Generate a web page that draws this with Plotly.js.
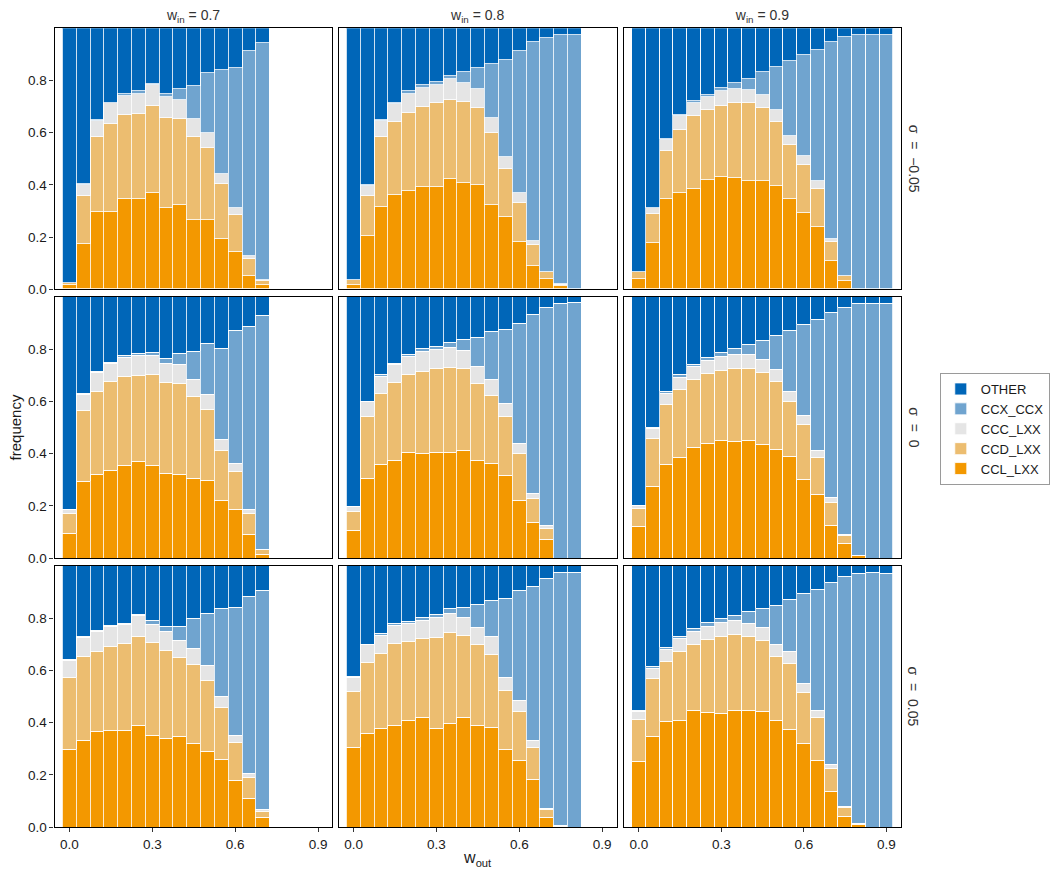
<!DOCTYPE html>
<html>
<head>
<meta charset="utf-8">
<script src="https://cdn.plot.ly/plotly-3.0.1.min.js"></script>
<style>html,body{margin:0;padding:0;background:#fff;}#chart{width:1050px;height:871px;}</style>
</head>
<body>
<div id="chart"></div>
<script>
// ---- categories & tick labels ----
const categories = ['CCL_LXX', 'CCD_LXX', 'CCC_LXX', 'CCX_CCX', 'OTHER'];
const catColors = ['#F39800', '#ECBD70', '#E5E5E5', '#70A4CF', '#0066B8'];
const wInLabels = ['0.7', '0.8', '0.9'];
const sigmaLabels = ['\u03C3\u00A0 =\u00A0 \u22120.05', '\u03C3\u00A0 =\u00A0 0', '\u03C3\u00A0 =\u00A0 0.05'];
const xTickVals = [0, 0.3, 0.6, 0.9];
const xTickText = ['0.0', '0.3', '0.6', '0.9'];
const yTickVals = [0, 0.2, 0.4, 0.6, 0.8];
const yTickText = ['0.0', '0.2', '0.4', '0.6', '0.8'];

// ---- w_out values (x) ----
const wOut_07 = [0, 0.05, 0.1, 0.15, 0.2, 0.25, 0.3, 0.35, 0.4, 0.45, 0.5, 0.55, 0.6, 0.65, 0.7];
const wOut_08 = [0, 0.05, 0.1, 0.15, 0.2, 0.25, 0.3, 0.35, 0.4, 0.45, 0.5, 0.55, 0.6, 0.65, 0.7, 0.75, 0.8];
const wOut_09 = [0, 0.05, 0.1, 0.15, 0.2, 0.25, 0.3, 0.35, 0.4, 0.45, 0.5, 0.55, 0.6, 0.65, 0.7, 0.75, 0.8, 0.85, 0.9];

// ---- sigma = -0.05, w_in = 0.7 ----
const ccl_sn_07 = [0.014,0.174,0.294,0.294,0.343,0.343,0.366,0.312,0.320,0.266,0.266,0.193,0.143,0.051,0.017];
const ccd_sn_07 = [0.010,0.184,0.288,0.340,0.325,0.329,0.337,0.345,0.333,0.318,0.276,0.211,0.142,0.065,0.015];
const ccc_sn_07 = [0.000,0.039,0.063,0.077,0.073,0.077,0.077,0.077,0.073,0.069,0.054,0.038,0.027,0.012,0.004];
const ccx_sn_07 = [0.000,0.004,0.001,0.003,0.008,0.008,0.007,0.015,0.042,0.123,0.230,0.399,0.533,0.782,0.905];
const oth_sn_07 = [0.976,0.599,0.354,0.286,0.251,0.243,0.213,0.251,0.232,0.224,0.174,0.159,0.155,0.090,0.059];
// ---- sigma = -0.05, w_in = 0.8 ----
const ccl_sn_08 = [0.017,0.204,0.316,0.362,0.377,0.392,0.389,0.423,0.408,0.400,0.323,0.274,0.181,0.089,0.040,0.013,0];
const ccd_sn_08 = [0.019,0.154,0.268,0.276,0.299,0.307,0.325,0.303,0.310,0.295,0.273,0.187,0.150,0.081,0.026,0.004,0];
const ccc_sn_08 = [0,0.038,0.061,0.069,0.073,0.073,0.069,0.077,0.073,0.073,0.061,0.046,0.035,0.015,0,0.003,0];
const ccx_sn_08 = [0,0.004,0.004,0.004,0.008,0.008,0.012,0.015,0.042,0.077,0.207,0.372,0.544,0.760,0.894,0.955,0.975];
const oth_sn_08 = [0.964,0.600,0.351,0.289,0.243,0.220,0.205,0.182,0.167,0.155,0.136,0.121,0.090,0.055,0.040,0.025,0.025];
// ---- sigma = -0.05, w_in = 0.9 ----
const ccl_sn_09 = [0.040,0.178,0.343,0.366,0.385,0.419,0.431,0.427,0.415,0.412,0.396,0.346,0.293,0.239,0.109,0.032,0,0,0];
const ccd_sn_09 = [0.024,0.111,0.187,0.245,0.276,0.265,0.272,0.287,0.299,0.283,0.242,0.204,0.184,0.146,0.072,0.019,0,0,0];
const ccc_sn_09 = [0,0.023,0.039,0.050,0.053,0.050,0.054,0.054,0.050,0.050,0.046,0.038,0.034,0.027,0.012,0,0,0,0];
const ccx_sn_09 = [0,0,0.007,0.004,0.008,0.011,0.015,0.023,0.042,0.088,0.165,0.284,0.384,0.502,0.752,0.913,0.975,0.975,0.975];
const oth_sn_09 = [0.936,0.688,0.424,0.335,0.278,0.255,0.228,0.209,0.194,0.167,0.151,0.128,0.105,0.086,0.055,0.036,0.025,0.025,0.025];

// ---- sigma = 0, w_in = 0.7 ----
const ccl_s0_07 = [0.093,0.292,0.319,0.334,0.353,0.369,0.353,0.323,0.319,0.304,0.296,0.219,0.185,0.089,0.013];
const ccd_s0_07 = [0.077,0.272,0.318,0.341,0.341,0.329,0.349,0.348,0.348,0.314,0.272,0.192,0.145,0.081,0.019];
const ccc_s0_07 = [0.015,0.061,0.072,0.069,0.073,0.076,0.072,0.073,0.073,0.065,0.057,0.042,0.031,0.015,0];
const ccx_s0_07 = [0,0.004,0.004,0.004,0.007,0.008,0.012,0.019,0.042,0.107,0.195,0.348,0.509,0.700,0.896];
const oth_s0_07 = [0.815,0.371,0.287,0.252,0.226,0.218,0.214,0.237,0.218,0.210,0.180,0.199,0.130,0.115,0.072];
// ---- sigma = 0, w_in = 0.8 ----
const ccl_s0_08 = [0.105,0.304,0.357,0.373,0.403,0.399,0.403,0.403,0.411,0.373,0.361,0.315,0.219,0.135,0.070,0,0];
const ccd_s0_08 = [0.072,0.237,0.272,0.298,0.299,0.314,0.322,0.326,0.314,0.294,0.260,0.226,0.180,0.092,0.042,0,0];
const ccc_s0_08 = [0.019,0.057,0.065,0.069,0.069,0.077,0.072,0.076,0.069,0.065,0.062,0.050,0.039,0.019,0.012,0,0];
const ccx_s0_08 = [0,0,0.008,0.004,0.007,0.011,0.012,0.019,0.042,0.111,0.183,0.283,0.459,0.685,0.834,0.974,0.977];
const oth_s0_08 = [0.804,0.402,0.298,0.256,0.222,0.199,0.191,0.176,0.164,0.157,0.134,0.126,0.103,0.069,0.042,0.026,0.023];
// ---- sigma = 0, w_in = 0.9 ----
const ccl_s0_09 = [0.122,0.272,0.356,0.383,0.421,0.440,0.448,0.444,0.448,0.436,0.417,0.390,0.302,0.245,0.126,0.054,0.009,0,0];
const ccd_s0_09 = [0.069,0.184,0.230,0.260,0.260,0.264,0.268,0.279,0.275,0.272,0.257,0.207,0.207,0.138,0.088,0.034,0,0,0];
const ccc_s0_09 = [0.012,0.038,0.042,0.046,0.050,0.050,0.053,0.054,0.054,0.050,0.046,0.038,0.038,0.027,0.016,0.004,0,0,0];
const ccx_s0_09 = [0,0.004,0.007,0.011,0.008,0.012,0.016,0.023,0.038,0.073,0.130,0.234,0.345,0.501,0.708,0.865,0.963,0.972,0.972];
const oth_s0_09 = [0.797,0.502,0.365,0.300,0.261,0.234,0.215,0.200,0.185,0.169,0.150,0.131,0.108,0.089,0.062,0.043,0.028,0.028,0.028];

// ---- sigma = 0.05, w_in = 0.7 ----
const ccl_sp_07 = [0.295,0.330,0.364,0.368,0.371,0.387,0.352,0.337,0.345,0.318,0.288,0.257,0.177,0.108,0.036];
const ccd_sp_07 = [0.275,0.324,0.309,0.324,0.329,0.343,0.352,0.340,0.305,0.302,0.271,0.202,0.145,0.080,0.023];
const ccc_sp_07 = [0.065,0.072,0.076,0.073,0.076,0.077,0.072,0.072,0.065,0.061,0.057,0.042,0.030,0.016,0.007];
const ccx_sp_07 = [0.004,0.004,0.004,0.007,0.004,0.007,0.012,0.016,0.053,0.118,0.202,0.336,0.489,0.679,0.840];
const oth_sp_07 = [0.361,0.270,0.247,0.228,0.220,0.186,0.212,0.235,0.232,0.201,0.182,0.163,0.159,0.117,0.094];
// ---- sigma = 0.05, w_in = 0.8 ----
const ccl_sp_08 = [0.304,0.358,0.377,0.388,0.407,0.419,0.377,0.396,0.419,0.388,0.380,0.296,0.254,0.182,0.037,0.004,0];
const ccd_sp_08 = [0.214,0.270,0.286,0.313,0.302,0.301,0.347,0.347,0.313,0.309,0.279,0.226,0.187,0.122,0.032,0.002,0];
const ccc_sp_08 = [0.053,0.069,0.069,0.069,0.068,0.069,0.076,0.073,0.068,0.065,0.069,0.049,0.042,0.027,0.004,0,0];
const ccx_sp_08 = [0.004,0,0.007,0.007,0.008,0.011,0.012,0.019,0.038,0.088,0.137,0.302,0.420,0.588,0.876,0.966,0.972];
const oth_sp_08 = [0.425,0.303,0.261,0.223,0.215,0.200,0.188,0.165,0.162,0.150,0.135,0.127,0.097,0.081,0.051,0.028,0.028];
// ---- sigma = 0.05, w_in = 0.9 ----
const ccl_sp_09 = [0.251,0.346,0.403,0.407,0.445,0.438,0.434,0.445,0.445,0.441,0.407,0.373,0.319,0.254,0.136,0.041,0.011,0,0];
const ccd_sp_09 = [0.160,0.221,0.229,0.263,0.252,0.278,0.294,0.290,0.283,0.271,0.244,0.252,0.195,0.165,0.088,0.034,0.003,0,0];
const ccc_sp_09 = [0.030,0.039,0.046,0.050,0.050,0.050,0.053,0.054,0.049,0.050,0.046,0.045,0.034,0.026,0.015,0.004,0,0,0];
const ccx_sp_09 = [0.004,0.007,0.010,0.008,0.011,0.015,0.015,0.019,0.046,0.073,0.149,0.199,0.344,0.462,0.695,0.878,0.954,0.972,0.968];
const oth_sp_09 = [0.555,0.387,0.312,0.272,0.242,0.219,0.204,0.192,0.177,0.165,0.154,0.131,0.108,0.093,0.066,0.043,0.032,0.028,0.032];

const panels = [
  {row:0, col:0, x:wOut_07, v:[ccl_sn_07, ccd_sn_07, ccc_sn_07, ccx_sn_07, oth_sn_07]},
  {row:0, col:1, x:wOut_08, v:[ccl_sn_08, ccd_sn_08, ccc_sn_08, ccx_sn_08, oth_sn_08]},
  {row:0, col:2, x:wOut_09, v:[ccl_sn_09, ccd_sn_09, ccc_sn_09, ccx_sn_09, oth_sn_09]},
  {row:1, col:0, x:wOut_07, v:[ccl_s0_07, ccd_s0_07, ccc_s0_07, ccx_s0_07, oth_s0_07]},
  {row:1, col:1, x:wOut_08, v:[ccl_s0_08, ccd_s0_08, ccc_s0_08, ccx_s0_08, oth_s0_08]},
  {row:1, col:2, x:wOut_09, v:[ccl_s0_09, ccd_s0_09, ccc_s0_09, ccx_s0_09, oth_s0_09]},
  {row:2, col:0, x:wOut_07, v:[ccl_sp_07, ccd_sp_07, ccc_sp_07, ccx_sp_07, oth_sp_07]},
  {row:2, col:1, x:wOut_08, v:[ccl_sp_08, ccd_sp_08, ccc_sp_08, ccx_sp_08, oth_sp_08]},
  {row:2, col:2, x:wOut_09, v:[ccl_sp_09, ccd_sp_09, ccc_sp_09, ccx_sp_09, oth_sp_09]}
];

// ---- layout geometry (pixels) ----
const W = 1050, H = 871;
const colPx = [[55, 335], [341.3, 621.3], [628.7, 907.7]];
const rowPx = [[28.3, 289.3], [296.7, 558.3], [565.7, 827.3]];
const px2x = p => p / W;
const px2y = p => 1 - p / H;

const FONT = 'Liberation Sans, Arial, Helvetica, sans-serif';
const TXT = '#1a1a1a';

const traces = [];
const layout = {
  width: W, height: H,
  margin: {l:0, r:0, t:0, b:0},
  paper_bgcolor: '#fff', plot_bgcolor: '#fff',
  barmode: 'stack', bargap: 0,
  font: {family: FONT, color: TXT, size: 13},
  showlegend: true,
  legend: {
    x: px2x(947), y: px2y(373), xanchor: 'left', yanchor: 'top',
    traceorder: 'reversed', bordercolor: '#9a9a9a', borderwidth: 1,
    bgcolor: '#fff', font: {size: 13, color: TXT, family: FONT},
    tracegroupgap: 0
  },
  annotations: []
};

panels.forEach((p, i) => {
  const n = i + 1;
  const xa = n === 1 ? 'x' : 'x' + n;
  const ya = n === 1 ? 'y' : 'y' + n;
  p.v.forEach((vals, k) => {
    traces.push({
      type: 'bar', x: p.x, y: vals, xaxis: xa, yaxis: ya,
      width: 0.05, name: categories[k], legendgroup: categories[k],
      showlegend: n === 1,
      marker: {color: catColors[k], line: {color: '#ffffff', width: 0.8}},
      hovertemplate: categories[k] + ': %{y}<extra></extra>'
    });
  });
  const top = p.row === 0, bottom = p.row === 2, left = p.col === 0;
  const xax = {
    domain: [px2x(colPx[p.col][0]), px2x(colPx[p.col][1])],
    anchor: ya, range: [-0.054, 0.952],
    showline: true, mirror: true, linecolor: '#000', linewidth: 1.3,
    showgrid: false, zeroline: false,
    ticks: bottom ? 'outside' : '', ticklen: 4, tickwidth: 1, tickcolor: '#333',
    showticklabels: bottom, tickvals: xTickVals, ticktext: xTickText,
    tickfont: {size: 13.5, color: TXT, family: FONT}, fixedrange: true
  };
  if (top) {
    // facet strip label for w_in, drawn as the axis title on the top side
    xax.side = 'top';
    xax.title = {text: 'w<sub>in</sub> = ' + wInLabels[p.col], standoff: 3,
                 font: {size: 14, color: '#333', family: FONT}};
  }
  if (bottom && p.col === 1) {
    xax.title = {text: 'w<sub>out</sub>', standoff: 1,
                 font: {size: 16, color: TXT, family: FONT}};
  }
  layout[n === 1 ? 'xaxis' : 'xaxis' + n] = xax;
  const yax = {
    domain: [px2y(rowPx[p.row][1]), px2y(rowPx[p.row][0])],
    anchor: xa, range: [0, 1],
    showline: true, mirror: true, linecolor: '#000', linewidth: 1.3,
    showgrid: false, zeroline: false,
    ticks: left ? 'outside' : '', ticklen: 4, tickwidth: 1, tickcolor: '#333',
    showticklabels: left, tickvals: yTickVals, ticktext: yTickText,
    tickfont: {size: 13.5, color: TXT, family: FONT}, fixedrange: true
  };
  if (left && p.row === 1) {
    yax.title = {text: 'frequency', standoff: 2,
                 font: {size: 15, color: TXT, family: FONT}};
  }
  layout[n === 1 ? 'yaxis' : 'yaxis' + n] = yax;
});

// strip labels (right), reading top to bottom
sigmaLabels.forEach((lab, r) => {
  layout.annotations.push({
    xref: 'paper', yref: 'paper',
    x: px2x(921), y: px2y((rowPx[r][0] + rowPx[r][1]) / 2),
    text: lab, showarrow: false, textangle: 90,
    width: 84, height: 20, align: 'center', valign: 'middle',
    xanchor: 'center', yanchor: 'middle',
    font: {size: 14, color: '#333', family: FONT}
  });
});

Plotly.newPlot('chart', traces, layout, {displayModeBar: false});
</script>
</body>
</html>
